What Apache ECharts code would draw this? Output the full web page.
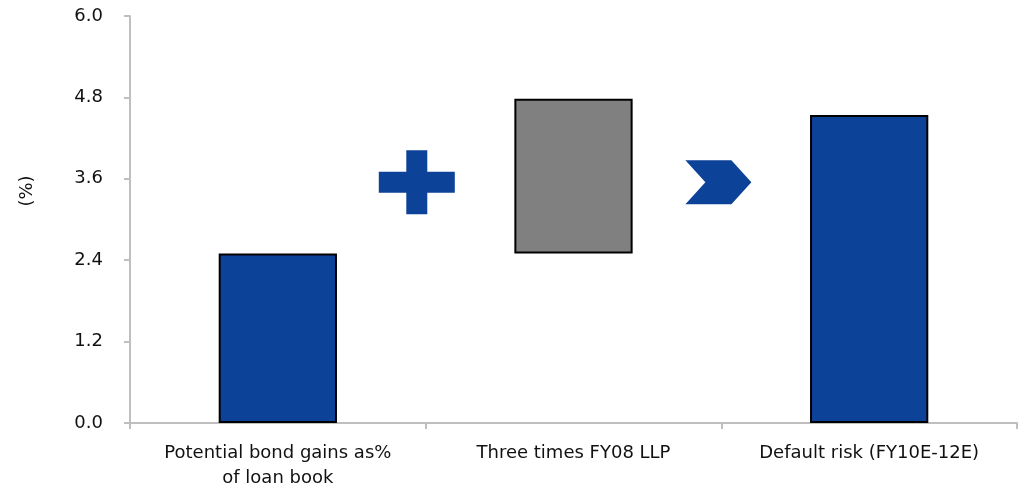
<!DOCTYPE html>
<html>
<head>
<meta charset="utf-8">
<script src="https://cdn.jsdelivr.net/npm/echarts@6/dist/echarts.min.js"></script>
<style>
  html, body { margin: 0; padding: 0; background: #ffffff; }
  #chart { width: 1024px; height: 494px; }
</style>
</head>
<body>
<div id="chart"></div>
<script>
// Waterfall: bond gains + three times FY08 LLP vs default risk (%)
const categories = ['Potential bond gains as%\nof loan book', 'Three times FY08 LLP', 'Default risk (FY10E-12E)'];
const barLow = [0, 2.5, 0];          // where each bar starts
const barHigh = [2.5, 4.78, 4.54];   // where each bar ends
const barColors = ['#0d4299', '#808080', '#0d4299'];
const yTicks = { min: 0, max: 6.0, interval: 1.2 };

const BLUE = '#0d4299';
const AXIS_GRAY = '#bfbfbf';
const FONT = 'DejaVu Sans';

const chart = echarts.init(document.getElementById('chart'), null, { renderer: 'canvas' });

const option = {
  animation: false,
  backgroundColor: '#ffffff',
  grid: { left: 130, right: 7, top: 16, bottom: 71, containLabel: false },
  xAxis: {
    type: 'category',
    data: categories,
    boundaryGap: true,
    axisLine: { lineStyle: { color: AXIS_GRAY, width: 2 } },
    axisTick: { show: true, length: 6, alignWithLabel: false, lineStyle: { color: AXIS_GRAY, width: 2 } },
    axisLabel: { color: '#111', fontFamily: FONT, fontSize: 18, margin: 18, lineHeight: 25, interval: 0 }
  },
  yAxis: {
    type: 'value',
    min: yTicks.min,
    max: yTicks.max,
    interval: yTicks.interval,
    splitLine: { show: false },
    axisLine: { show: true, lineStyle: { color: AXIS_GRAY, width: 2 } },
    axisTick: { show: true, length: 6, lineStyle: { color: AXIS_GRAY, width: 2 } },
    axisLabel: {
      color: '#111', fontFamily: FONT, fontSize: 18, margin: 27,
      formatter: v => v.toFixed(1)
    }
  },
  series: [
    {
      name: 'base',
      type: 'bar',
      stack: 'wf',
      barWidth: '40%',
      silent: true,
      itemStyle: { color: 'transparent', borderWidth: 0 },
      data: barLow
    },
    {
      name: 'value',
      type: 'bar',
      stack: 'wf',
      barWidth: '40%',
      data: barHigh.map((h, i) => ({
        value: +(h - barLow[i]).toFixed(2),
        itemStyle: { color: barColors[i], borderColor: '#000', borderWidth: 2 }
      }))
    }
  ]
};

chart.setOption(option);

// Operator symbols placed between the categories
function catX(pos) {
  const i = Math.floor(pos);
  const a = chart.convertToPixel({ xAxisIndex: 0 }, i);
  const b = chart.convertToPixel({ xAxisIndex: 0 }, i + 1);
  return a + (b - a) * (pos - i);
}
function valY(v) { return chart.convertToPixel({ yAxisIndex: 0 }, v); }

const plusX = catX(0.47), plusY = valY(3.55);
const chevX = catX(1.49), chevY = valY(3.55);

// plus: 76 wide, 64 tall, arms ~21px thick
const pw = 38, ph = 32, t = 10.5;
const plusPts = [
  [-t, -ph], [t, -ph], [t, -t], [pw, -t], [pw, t], [t, t],
  [t, ph], [-t, ph], [-t, t], [-pw, t], [-pw, -t], [-t, -t]
].map(p => [plusX + p[0], plusY + p[1]]);

// chevron: 66 wide, 44 tall
const chevPts = [
  [-33, -22], [13, -22], [33, 0], [13, 22], [-33, 22], [-13, 0]
].map(p => [chevX + p[0], chevY + p[1]]);

chart.setOption({
  graphic: [
    { type: 'polygon', shape: { points: plusPts }, style: { fill: BLUE }, z: 100 },
    { type: 'polygon', shape: { points: chevPts }, style: { fill: BLUE }, z: 100 },
    {
      type: 'text',
      x: 27, y: 191,
      rotation: Math.PI / 2,
      style: {
        text: '(%)', fill: '#111', font: '18px "DejaVu Sans"',
        textAlign: 'center', textVerticalAlign: 'middle'
      },
      z: 100
    }
  ]
});
</script>
</body>
</html>
